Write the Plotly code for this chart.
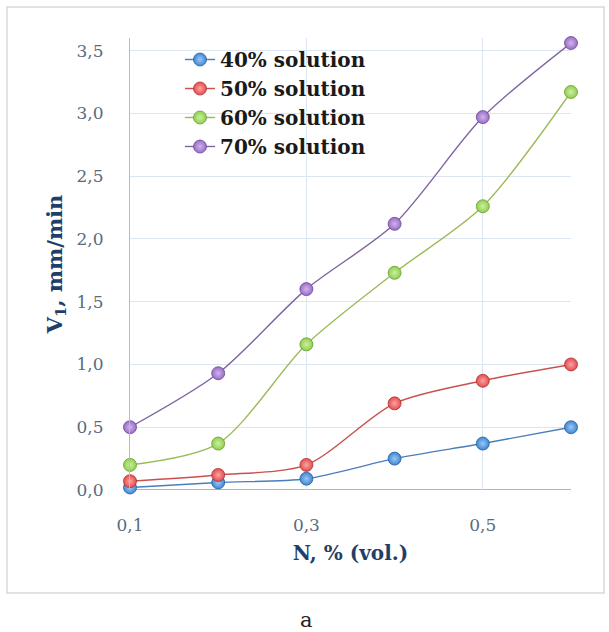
import plotly.graph_objects as go

# ---- data ----
n_vol = [0.1, 0.2, 0.3, 0.4, 0.5, 0.6]
sol_40 = [0.02, 0.06, 0.09, 0.25, 0.37, 0.50]
sol_50 = [0.07, 0.12, 0.20, 0.69, 0.87, 1.00]
sol_60 = [0.20, 0.37, 1.16, 1.73, 2.26, 3.17]
sol_70 = [0.50, 0.93, 1.60, 2.12, 2.97, 3.56]
series_names = ["40% solution", "50% solution", "60% solution", "70% solution"]
series_values = [sol_40, sol_50, sol_60, sol_70]
y_ticks = [0.0, 0.5, 1.0, 1.5, 2.0, 2.5, 3.0, 3.5]
x_ticks = [0.1, 0.3, 0.5]

# ---- styles ----
line_colors = ["#4a7ebb", "#c9504c", "#9bbb59", "#8064a2"]
marker_colors = ["#3c86d8", "#e94a4c", "#8ed04a", "#9a6cc8"]
marker_centers = ["#9cc8f2", "#f7a5a5", "#cdeea6", "#cfb5ea"]
marker_edges = ["#2c5f99", "#a33534", "#6a9a32", "#6a4a90"]

W, H = 609, 632
L, R, T, B = 130, 38, 38, 142
pw, ph = W - L - R, H - T - B

def px_x(px):
    return (px - L) / pw

def px_y(py):
    return 1 - (py - T) / ph

fig = go.Figure()
for i, (name, vals) in enumerate(zip(series_names, series_values)):
    fig.add_trace(go.Scatter(
        x=n_vol, y=vals, name=name, mode="lines+markers",
        line=dict(color=line_colors[i], width=1.4, shape="spline", smoothing=0.8),
        marker=dict(size=13, color=marker_colors[i],
                    gradient=dict(type="radial", color=marker_centers[i]),
                    line=dict(color=marker_edges[i], width=0.8)),
        legendgroup=name, cliponaxis=False,
    ))

serif = "DejaVu Serif"
tick_col = "#5a6b80"
title_col = "#1f3f6a"

fig.update_layout(
    width=W, height=H,
    margin=dict(l=L, r=R, t=T, b=B, autoexpand=False),
    paper_bgcolor="white", plot_bgcolor="white",
    separators=", ",
    showlegend=True,
    legend=dict(x=px_x(180), y=px_y(40), xanchor="left", yanchor="top",
                bgcolor="rgba(0,0,0,0)", traceorder="grouped", tracegroupgap=0,
                font=dict(family=serif, size=20, color="#1a1a1a", weight="bold"),
                itemclick=False),
    xaxis=dict(range=[0.1, 0.6], tickvals=x_ticks, tickformat=".1f",
               showgrid=True, gridcolor="#dce6f2", gridwidth=1,
               zeroline=False, showline=False,
               ticks="outside", ticklen=20, tickcolor="rgba(0,0,0,0)",
               tickfont=dict(family=serif, size=17, color=tick_col),
               title=dict(text="N, % (vol.)", standoff=11,
                          font=dict(family=serif, size=20, color=title_col, weight="bold")),
               automargin=False),
    yaxis=dict(range=[0, 3.6], tickvals=y_ticks, tickformat=".1f",
               showgrid=True, gridcolor="#dce6f2", gridwidth=1,
               zeroline=False, showline=True, linecolor="#a9bfdc", linewidth=1.2,
               ticks="outside", ticklen=22, tickcolor="rgba(0,0,0,0)",
               tickfont=dict(family=serif, size=17, color=tick_col),
               title=dict(text="V<sub>1</sub>, mm/min", standoff=8,
                          font=dict(family=serif, size=21, color=title_col, weight="bold")),
               automargin=False),
)

# baseline at 0.0 (x axis line)
fig.add_shape(type="line", xref="x", yref="y", x0=0.1, x1=0.6, y0=0, y1=0,
              line=dict(color="#7f9fcc", width=1.5), layer="below")

# outer frame
fig.add_shape(type="rect", xref="paper", yref="paper",
              x0=px_x(7), x1=px_x(604), y0=px_y(593), y1=px_y(7),
              line=dict(color="#d5d9de", width=1.5), layer="below")

# caption
fig.add_annotation(text="a", xref="paper", yref="paper", x=px_x(306), y=px_y(620),
                   yanchor="middle", xanchor="center",
                   showarrow=False, font=dict(family=serif, size=21, color="#222222"))

fig.write_html("out.html")
